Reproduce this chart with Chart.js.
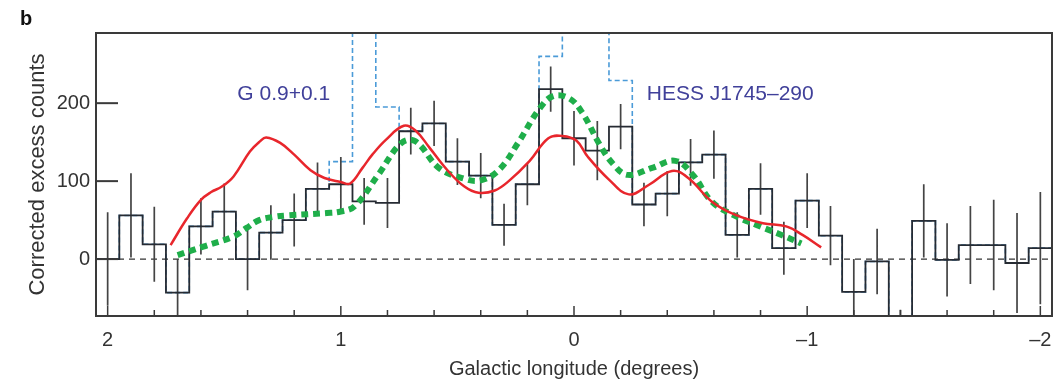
<!DOCTYPE html>
<html>
<head>
<meta charset="utf-8">
<script src="https://cdn.jsdelivr.net/npm/chart.js@4.4.1/dist/chart.umd.min.js"></script>
<style>
  html, body { margin: 0; padding: 0; background: #fff; }
  #wrap { width: 1064px; height: 382px; position: relative; }
</style>
</head>
<body>
<div id="wrap"><canvas id="chart"></canvas></div>
<script>
// bin centres (degrees), 0.1 deg wide bins
const binCenters = [2.0, 1.9, 1.8, 1.7, 1.6, 1.5, 1.4, 1.3, 1.2, 1.1, 1.0, 0.9, 0.8, 0.7, 0.6, 0.5, 0.4, 0.3, 0.2, 0.1,
  0.0, -0.1, -0.2, -0.3, -0.4, -0.5, -0.6, -0.7, -0.8, -0.9, -1.0, -1.1, -1.2, -1.3, -1.4, -1.5, -1.6, -1.7, -1.8, -1.9, -2.0];
const binWidth = 0.1;

// corrected excess counts (black histogram)
const counts = [0, 56, 19, -43, 42, 61, 0, 34, 50, 90, 96, 74, 72, 164, 174, 125, 107, 44, 96, 218,
  155, 139, 170, 70, 84, 124, 134, 31, 90, 14, 75, 30, -42, -3, -110, 49, -1, 18, 18, -5, 14];
const countErrors = [60, 54, 48, 43, 36, 36, 40, 35, 34, 34, 35, 30, 32, 30, 29, 30, 29, 27, 27, 29,
  35, 38, 29, 28, 29, 30, 31, 29, 33, 34, 35, 38, 42, 42, 45, 47, 47, 50, 58, 64, 72];

// counts before removing the two point sources (blue dashed histogram)
const rawCounts = [0, 56, 19, -43, 42, 61, 0, 34, 50, 90, 125, 400, 195, 164, 174, 125, 107, 44, 96, 260,
  400, 400, 229, 70, 84, 124, 134, 31, 90, 14, 75, 30, -42, -3, -110, 49, -1, 18, 18, -5, 14];

// red model curve
const redLon = [1.73, 1.66, 1.60, 1.556, 1.51, 1.46, 1.39, 1.347, 1.32, 1.26, 1.20, 1.13, 1.07, 1.00, 0.96, 0.907, 0.865, 0.807, 0.73,
  0.68, 0.62, 0.54, 0.47, 0.41, 0.34, 0.28, 0.19, 0.11, 0.05, -0.01, -0.06, -0.15, -0.235, -0.32, -0.42, -0.49,
  -0.59, -0.69, -0.81, -0.91, -0.98, -1.06];
const redVal = [18, 52, 76, 86, 93, 106, 138, 151, 156, 149, 134, 114, 104, 99, 97, 117, 134, 153, 171,
  165, 143, 113, 93, 85, 88, 100, 126, 155, 158, 152, 131, 102, 83, 95, 113, 104,
  74, 57, 46, 42, 31, 15];

// green dotted model curve
const greenLon = [1.70, 1.59, 1.46, 1.404, 1.35, 1.29, 1.23, 1.06, 1.00, 0.94, 0.84, 0.74, 0.68, 0.58, 0.48, 0.40,
  0.32, 0.24, 0.15, 0.09, 0.02, -0.035, -0.11, -0.165, -0.23, -0.335, -0.435, -0.51, -0.59, -0.68, -0.78, -0.89, -0.975];
const greenVal = [5, 16, 29, 40, 50, 54, 56, 59, 61, 68, 108, 149, 151, 117, 104, 101,
  115, 149, 192, 209, 206, 188, 147, 123, 108, 117, 126, 108, 74, 57, 44, 31, 20];

// axes
const xTickValues = [2, 1.8, 1.6, 1.4, 1.2, 1, 0.8, 0.6, 0.4, 0.2, 0, -0.2, -0.4, -0.6, -0.8, -1, -1.2, -1.4, -1.6, -1.8, -2];
const xMajorValues = [2, 1, 0, -1, -2];
const xMajorLabels = ['2', '1', '0', '\u20131', '\u20132'];
const yTickValues = [0, 100, 200];

const annotations = [
  { text: 'G 0.9+0.1', lon: 1.245, val: 211 },
  { text: 'HESS J1745\u2013290', lon: -0.67, val: 211 }
];

const FONT = '"Liberation Sans", Arial, Helvetica, sans-serif';

const stepPoints = (vals) => {
  const pts = [];
  binCenters.forEach((c, i) => {
    pts.push({ x: c + binWidth / 2, y: vals[i] });
    pts.push({ x: c - binWidth / 2, y: vals[i] });
  });
  return pts;
};

const errorPoints = [];
binCenters.forEach((c, i) => {
  errorPoints.push({ x: c, y: counts[i] - countErrors[i] });
  errorPoints.push({ x: c, y: counts[i] + countErrors[i] });
  errorPoints.push({ x: c, y: null });
});

const decor = {
  id: 'decor',
  afterDatasetsDraw(chart) {
    const { ctx, chartArea: a, scales: { x, y } } = chart;
    ctx.save();
    ctx.strokeStyle = '#3a3a3a';
    // inward ticks on x axis
    ctx.lineWidth = 1.5;
    xTickValues.forEach(v => {
      const px = x.getPixelForValue(v);
      const major = xMajorValues.some(m => Math.abs(m - v) < 1e-6);
      ctx.beginPath();
      ctx.moveTo(px, a.bottom);
      ctx.lineTo(px, a.bottom - (major ? 10 : 6));
      ctx.stroke();
    });
    // inward ticks on y axis
    ctx.lineWidth = 2;
    yTickValues.forEach(v => {
      const py = y.getPixelForValue(v);
      ctx.beginPath();
      ctx.moveTo(a.left, py);
      ctx.lineTo(a.left + 22, py);
      ctx.stroke();
    });
    // frame
    ctx.lineWidth = 2;
    ctx.strokeRect(a.left, a.top, a.right - a.left, a.bottom - a.top);
    // source names
    ctx.fillStyle = '#40409a';
    ctx.font = '21px ' + FONT;
    ctx.textAlign = 'center';
    ctx.textBaseline = 'middle';
    annotations.forEach(t => {
      ctx.fillText(t.text, x.getPixelForValue(t.lon), y.getPixelForValue(t.val));
    });
    // panel letter
    ctx.fillStyle = '#111';
    ctx.font = 'bold 20px ' + FONT;
    ctx.textAlign = 'left';
    ctx.textBaseline = 'alphabetic';
    ctx.fillText('b', 20, 25);
    ctx.restore();
  }
};

new Chart(document.getElementById('chart'), {
  type: 'line',
  data: {
    datasets: [
      {
        label: 'red model',
        data: redLon.map((l, i) => ({ x: l, y: redVal[i] })),
        borderColor: '#e8262c', borderWidth: 2.5, pointRadius: 0,
        tension: 0.4, order: 1
      },
      {
        label: 'green model',
        data: greenLon.map((l, i) => ({ x: l, y: greenVal[i] })),
        borderColor: '#1fae4a', borderWidth: 6, borderDash: [7, 5], borderCapStyle: 'butt',
        pointRadius: 0, tension: 0.4, order: 2
      },
      {
        label: 'corrected counts',
        data: stepPoints(counts),
        borderColor: '#262b33', borderWidth: 1.8, pointRadius: 0, tension: 0, order: 3
      },
      {
        label: 'errors',
        data: errorPoints,
        borderColor: '#444', borderWidth: 1.7, pointRadius: 0, spanGaps: false, tension: 0, order: 4
      },
      {
        label: 'zero',
        data: [{ x: 2.05, y: 0 }, { x: -2.05, y: 0 }],
        borderColor: '#333', borderWidth: 1.2, borderDash: [6, 5], pointRadius: 0, order: 5
      },
      {
        label: 'raw counts',
        data: stepPoints(rawCounts),
        borderColor: '#4b9bd8', borderWidth: 1.6, borderDash: [5, 3], pointRadius: 0, tension: 0, order: 6
      }
    ]
  },
  options: {
    responsive: true,
    maintainAspectRatio: false,
    animation: false,
    layout: { padding: { top: 33, right: 12, left: 0, bottom: 0 } },
    plugins: { legend: { display: false }, tooltip: { enabled: false } },
    scales: {
      x: {
        type: 'linear',
        reverse: true,
        min: -2.05,
        max: 2.05,
        grid: { display: false, drawTicks: false },
        border: { display: false },
        afterBuildTicks: (scale) => { scale.ticks = xTickValues.map(v => ({ value: v })); },
        afterFit: (scale) => { scale.height = 66; },
        ticks: {
          autoSkip: false, maxRotation: 0, padding: 12, color: '#333',
          font: { family: FONT, size: 20 },
          callback: (v) => {
            const k = xMajorValues.findIndex(m => Math.abs(m - v) < 1e-6);
            return k >= 0 ? xMajorLabels[k] : '';
          }
        },
        title: {
          display: true, text: 'Galactic longitude (degrees)', color: '#333',
          font: { family: FONT, size: 20 }, padding: { top: 0, bottom: 1 }
        }
      },
      y: {
        min: -73,
        max: 290,
        grid: { display: false, drawTicks: false },
        border: { display: false },
        afterBuildTicks: (scale) => { scale.ticks = yTickValues.map(v => ({ value: v })); },
        afterFit: (scale) => { scale.width = 96; },
        ticks: { padding: 6, color: '#333', font: { family: FONT, size: 20 } },
        title: {
          display: true, text: 'Corrected excess counts', color: '#333',
          font: { family: FONT, size: 22 }, padding: { top: 25, bottom: 0 }
        }
      }
    }
  },
  plugins: [decor]
});
</script>
</body>
</html>
